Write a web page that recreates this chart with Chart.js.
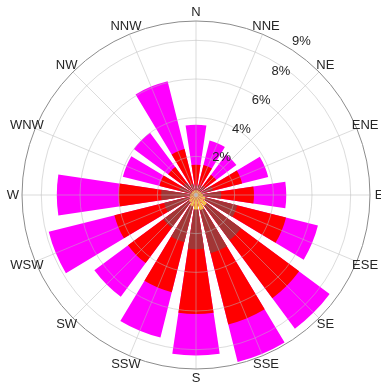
<!DOCTYPE html>
<html>
<head>
<meta charset="utf-8">
<script src="https://cdn.jsdelivr.net/npm/chart.js@4.4.0/dist/chart.umd.min.js"></script>
<style>
  html, body { margin: 0; padding: 0; background: #fff; }
  #wrap { width: 381px; height: 385px; position: relative; }
</style>
</head>
<body>
<div id="wrap"><canvas id="rose"></canvas></div>
<script>
// Wind directions, clockwise from north
const directions = ['N', 'NNE', 'NE', 'ENE', 'E', 'ESE', 'SE', 'SSE', 'S', 'SSW', 'SW', 'WSW', 'W', 'WNW', 'NW', 'NNW'];

// Frequency (%) per speed bin, innermost bin first
const bin1 = [0.10, 0.10, 0.10, 0.10, 0.10, 0.10, 0.10, 0.10, 0.10, 0.10, 0.10, 0.10, 0.10, 0.10, 0.10, 0.10];
const bin2 = [0.15, 0.15, 0.15, 0.20, 0.25, 0.40, 0.60, 0.70, 0.65, 0.50, 0.35, 0.25, 0.20, 0.15, 0.15, 0.15];
const bin3 = [0.25, 0.30, 0.35, 0.60, 0.95, 1.70, 2.20, 2.30, 2.05, 1.90, 1.65, 1.35, 1.50, 0.65, 0.55, 0.35];
const bin4 = [1.07, 1.05, 0.70, 1.56, 1.70, 2.60, 3.74, 3.80, 3.36, 2.68, 2.28, 2.65, 2.20, 1.05, 1.00, 1.85];
const bin5 = [2.07, 1.30, 1.30, 1.39, 1.67, 1.70, 1.96, 2.00, 2.14, 2.42, 2.16, 3.50, 3.20, 1.95, 2.20, 3.62];
const binColors = ['#DAD2F0', '#FFC43A', '#A23636', '#FF0000', '#FF00FF'];

// Radial axis
const tickValues = [2, 4, 6, 8, 9];
const tickLabels = ['2%', '4%', '6%', '8%', '9%'];
const rMax = 9;

const BAR_DEG = 17;
const GAP_DEG = 22.5 - BAR_DEG;
const FONT = '13px "Liberation Sans", Arial, sans-serif';

// Stack the bins: each dataset is the running total up to that bin
const bins = [bin1, bin2, bin3, bin4, bin5];
const cumulative = bins.map((b, k) =>
    directions.map((d, i) => bins.slice(0, k + 1).reduce((s, arr) => s + arr[i], 0)));

// every direction gets a bar slot and an empty gap slot
const slotLabels = directions.flatMap(d => [d, '']);
const datasets = cumulative.map((vals, k) => ({
    label: 'bin ' + (k + 1),
    data: vals.flatMap(v => [v, 0]),
    backgroundColor: binColors[k],
    borderWidth: 0,
    angle: ctx => (ctx.dataIndex % 2 === 0 ? BAR_DEG : GAP_DEG)
}));

const toRad = deg => (deg - 90) * Math.PI / 180;

const roseGrid = {
    id: 'roseGrid',
    afterDatasetsDraw(chart) {
        const s = chart.scales.r;
        const ctx = chart.ctx;
        const cx = s.xCenter, cy = s.yCenter;
        const R = s.getDistanceFromCenterForValue(rMax);
        ctx.save();
        ctx.lineWidth = 1;

        // inner circles
        ctx.strokeStyle = 'rgba(185,185,185,0.5)';
        tickValues.filter(v => v < rMax).forEach(v => {
            ctx.beginPath();
            ctx.arc(cx, cy, s.getDistanceFromCenterForValue(v), 0, Math.PI * 2);
            ctx.stroke();
        });
        // spokes
        directions.forEach((d, i) => {
            const a = toRad(i * 22.5);
            ctx.beginPath();
            ctx.moveTo(cx, cy);
            ctx.lineTo(cx + R * Math.cos(a), cy + R * Math.sin(a));
            ctx.stroke();
        });
        // outer circle
        ctx.strokeStyle = '#8c8c8c';
        ctx.beginPath();
        ctx.arc(cx, cy, R, 0, Math.PI * 2);
        ctx.stroke();

        ctx.font = FONT;
        ctx.fillStyle = '#262626';
        ctx.textAlign = 'center';
        ctx.textBaseline = 'middle';
        // direction labels
        directions.forEach((d, i) => {
            const a = toRad(i * 22.5);
            ctx.fillText(d, cx + (R + 9) * Math.cos(a), cy + (R + 9) * Math.sin(a));
        });
        // percent labels along a line between NNE and NE
        const ta = toRad(34.5);
        tickValues.forEach((v, i) => {
            const r = v === rMax ? R + 12 : s.getDistanceFromCenterForValue(v) * 0.9 + 10.5;
            ctx.fillText(tickLabels[i], cx + r * Math.cos(ta), cy + r * Math.sin(ta));
        });
        ctx.restore();
    }
};

new Chart(document.getElementById('rose'), {
    type: 'polarArea',
    data: {
        labels: slotLabels,
        datasets: datasets
    },
    options: {
        responsive: true,
        maintainAspectRatio: false,
        animation: false,
        events: [],
        layout: {
            padding: { left: 22, right: 10, top: 21, bottom: 15 }
        },
        plugins: {
            legend: { display: false },
            tooltip: { enabled: false }
        },
        scales: {
            r: {
                min: 0,
                max: rMax,
                startAngle: -BAR_DEG / 2,
                ticks: { display: false, stepSize: 2 },
                grid: { display: false },
                angleLines: { display: false },
                pointLabels: { display: false }
            }
        }
    },
    plugins: [roseGrid]
});
</script>
</body>
</html>
